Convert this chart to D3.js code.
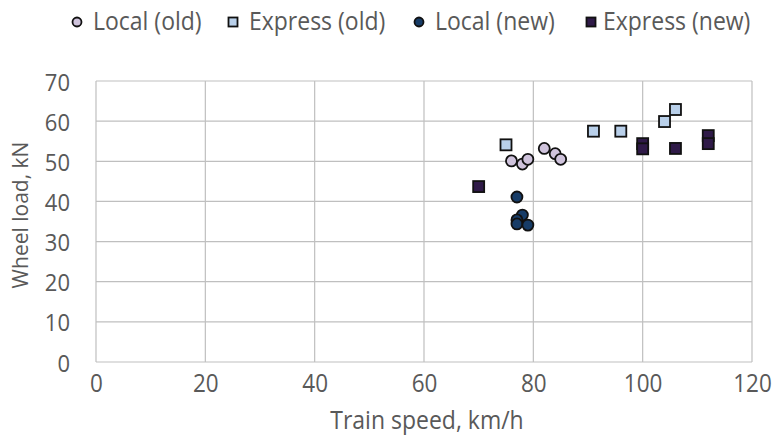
<!DOCTYPE html>
<html>
<head>
<meta charset="utf-8">
<script src="https://cdn.jsdelivr.net/npm/d3@7"></script>
<style>
  html, body { margin: 0; padding: 0; background: #ffffff; }
  svg { display: block; }
  text { font-family: "Open Sans", "Liberation Sans", sans-serif; fill: #595959; }
</style>
</head>
<body>
<svg id="chart" width="775" height="440"></svg>
<script>
// Measured wheel loads versus train speed
const seriesNames = ["Local (old)", "Express (old)", "Local (new)", "Express (new)"];

const localOldSpeed = [76, 78, 79, 82, 84, 85];
const localOldLoad  = [50.1, 49.3, 50.5, 53.2, 51.9, 50.5];

const expressOldSpeed = [75, 91, 96, 104, 106];
const expressOldLoad  = [54.1, 57.5, 57.5, 59.9, 62.9];

const localNewSpeed = [77, 78, 77, 77, 79];
const localNewLoad  = [41.1, 36.6, 35.4, 34.4, 34.1];

const expressNewSpeed = [70, 100, 100, 106, 112, 112];
const expressNewLoad  = [43.7, 54.4, 53.1, 53.2, 56.4, 54.4];

const xTickValues = [0, 20, 40, 60, 80, 100, 120];
const yTickValues = [0, 10, 20, 30, 40, 50, 60, 70];

const series = [
  { name: seriesNames[0], shape: "circle", fill: "#cfc3dc", xs: localOldSpeed,   ys: localOldLoad },
  { name: seriesNames[1], shape: "square", fill: "#b9d0ea", xs: expressOldSpeed, ys: expressOldLoad },
  { name: seriesNames[2], shape: "circle", fill: "#173c67", xs: localNewSpeed,   ys: localNewLoad },
  { name: seriesNames[3], shape: "square", fill: "#2f1a48", xs: expressNewSpeed, ys: expressNewLoad }
];

const svg = d3.select("#chart");
const plot = { left: 96, right: 752, top: 81, bottom: 362 };

const x = d3.scaleLinear().domain([0, 120]).range([plot.left, plot.right]);
const y = d3.scaleLinear().domain([0, 70]).range([plot.bottom, plot.top]);

// Gridlines
const grid = svg.append("g").attr("stroke", "#bfbfbf").attr("stroke-width", 1.2);
grid.selectAll("line.v").data(xTickValues).join("line")
  .attr("x1", d => x(d)).attr("x2", d => x(d))
  .attr("y1", plot.top).attr("y2", plot.bottom);
grid.selectAll("line.h").data(yTickValues).join("line")
  .attr("x1", plot.left).attr("x2", plot.right)
  .attr("y1", d => y(d)).attr("y2", d => y(d));

// Tick labels use a slightly tall, condensed look (vertical stretch)
const xStretch = 1.1, yStretch = 1.06;

const xAxis = svg.append("g")
  .attr("transform", `translate(0,${plot.bottom})`)
  .call(d3.axisBottom(x).tickValues(xTickValues).tickSize(0));
xAxis.select(".domain").remove();
xAxis.selectAll("text")
  .attr("font-size", 22.5).attr("fill", "#404040")
  .attr("font-family", "Open Sans, sans-serif")
  .attr("dy", 0).attr("y", 30 / xStretch)
  .attr("transform", `scale(1,${xStretch})`);

const yAxis = svg.append("g")
  .attr("transform", `translate(${plot.left},0)`)
  .call(d3.axisLeft(y).tickValues(yTickValues).tickSize(0));
yAxis.select(".domain").remove();
yAxis.selectAll("text")
  .attr("font-size", 22).attr("fill", "#595959")
  .attr("font-family", "Open Sans, sans-serif")
  .attr("text-anchor", "end")
  .attr("dy", 0).attr("x", -26).attr("y", 9 / yStretch)
  .attr("transform", `scale(1,${yStretch})`);

// Axis titles
svg.append("text")
  .attr("transform", `translate(427,429) scale(1,1.12)`)
  .attr("text-anchor", "middle").attr("font-size", 23)
  .text("Train speed, km/h");
svg.append("text")
  .attr("transform", `translate(28,215) rotate(-90)`)
  .attr("text-anchor", "middle").attr("font-size", 21)
  .text("Wheel load, kN");

// Markers
function drawMarker(g, shape, fill, cx, cy, size) {
  if (shape === "circle") {
    g.append("circle").attr("cx", cx).attr("cy", cy).attr("r", size / 2)
      .attr("fill", fill).attr("stroke", "#111").attr("stroke-width", 1.8);
  } else {
    g.append("rect").attr("x", cx - size / 2).attr("y", cy - size / 2)
      .attr("width", size).attr("height", size)
      .attr("fill", fill).attr("stroke", "#111").attr("stroke-width", 1.8);
  }
}

const marks = svg.append("g");
series.forEach(s => {
  s.xs.forEach((v, i) => drawMarker(marks, s.shape, s.fill, x(v), y(s.ys[i]), 11));
});

// Legend
const legendItems = [
  { x: 77, tx: 93 },
  { x: 233, tx: 249 },
  { x: 419, tx: 435 },
  { x: 591, tx: 603 }
];
const legend = svg.append("g");
series.forEach((s, i) => {
  drawMarker(legend, s.shape, s.fill, legendItems[i].x, 22, 9);
  legend.append("text")
    .attr("transform", `translate(${legendItems[i].tx},30) scale(1,1.1)`)
    .attr("font-size", 23).text(s.name);
});
</script>
</body>
</html>
